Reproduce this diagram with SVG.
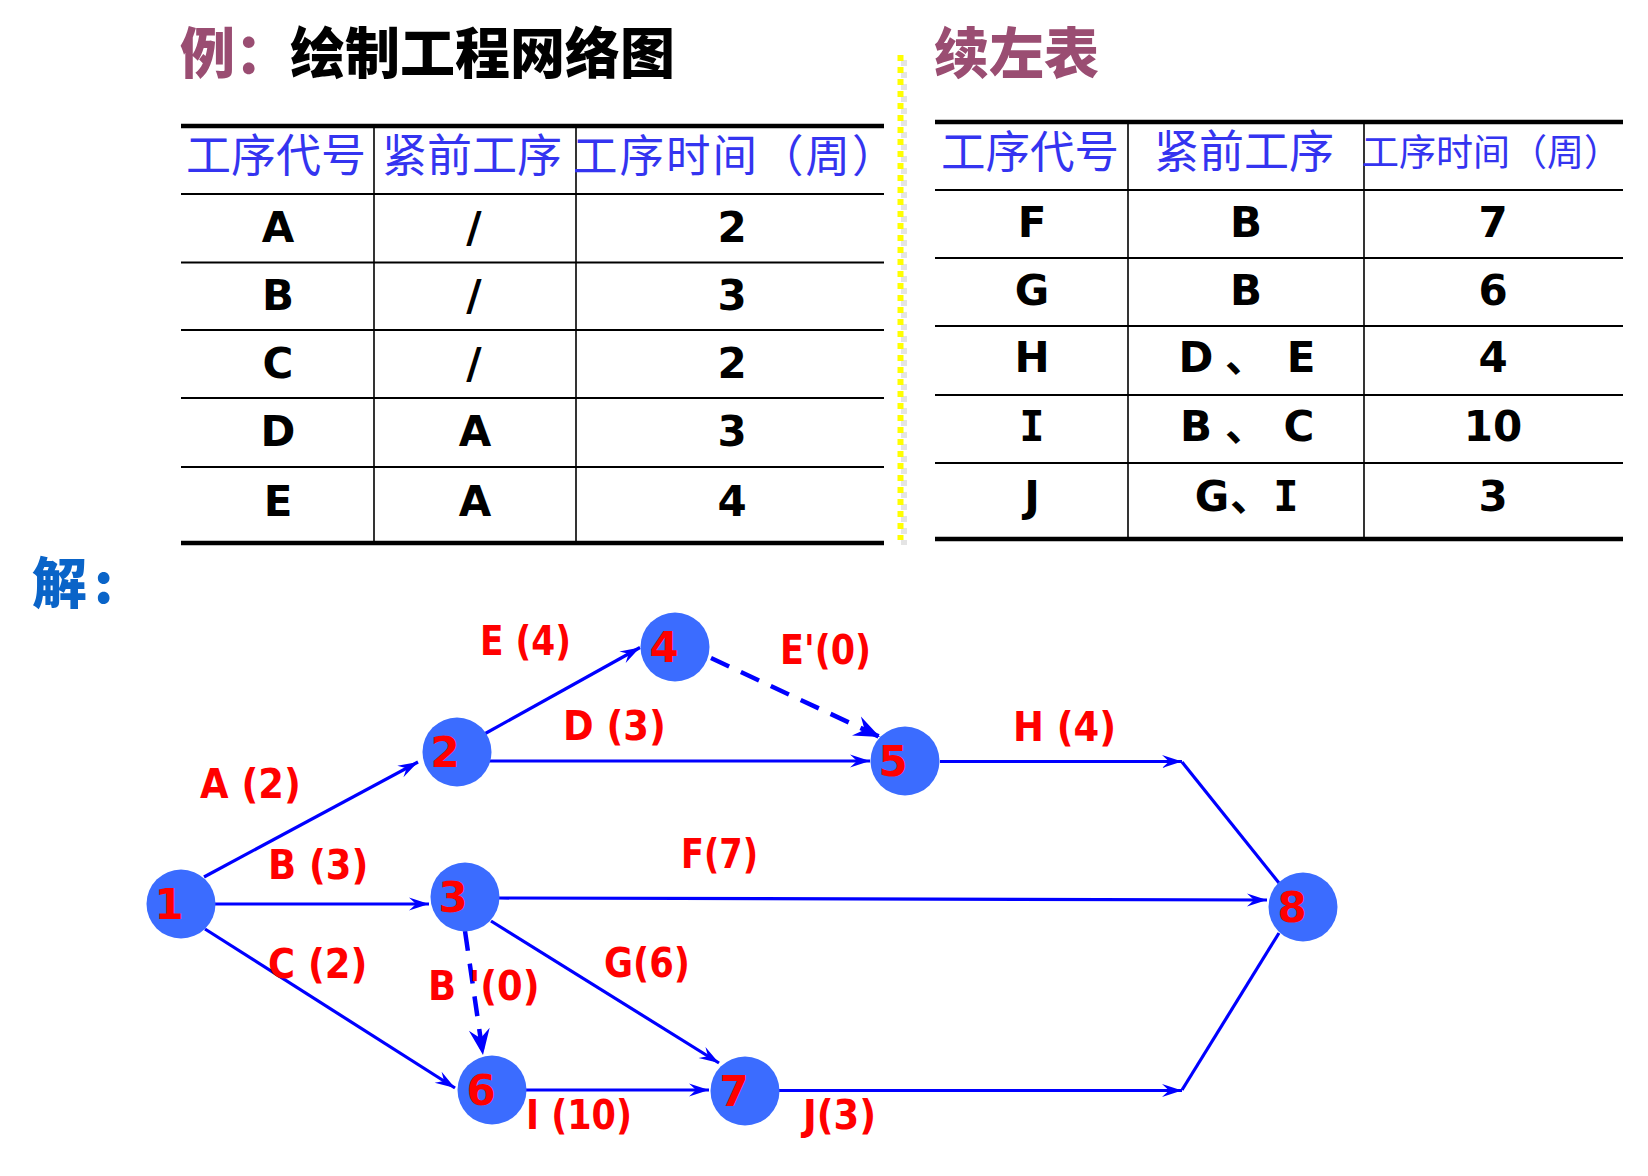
<svg xmlns="http://www.w3.org/2000/svg" width="1648" height="1176" viewBox="0 0 1648 1176">
<style>
.title{font-family:"Noto Sans CJK SC","Noto Sans",sans-serif;font-weight:900;font-size:55px}
.hdr{font-family:"Noto Sans CJK SC","Noto Sans",sans-serif;font-weight:400;fill:#3434f0}
.cell{font-family:"DejaVu Sans","Noto Sans CJK SC",sans-serif;font-weight:700;font-size:42px;fill:#000;text-anchor:middle}
.mono{font-family:"DejaVu Sans Mono",monospace}
.thick{stroke:#000;stroke-width:4.5}
.thin{stroke:#000;stroke-width:2}
.col{stroke:#000;stroke-width:1.6}
.node circle{fill:#3b6cff}
.node text{font-family:"DejaVu Sans",sans-serif;font-weight:700;font-size:42px;fill:#ff0000;text-anchor:middle}
.edge{stroke:#0000ff;stroke-width:3.2;fill:none}
.dash{stroke:#0000ff;stroke-width:4.5;fill:none;stroke-dasharray:20 13}
.lbl{font-family:"DejaVu Sans Condensed","DejaVu Sans",sans-serif;font-weight:700;font-size:41px;fill:#ff0000}
</style>
<defs>
<marker id="arr" markerUnits="userSpaceOnUse" markerWidth="24" markerHeight="16" viewBox="-22 -8 24 16" refX="0" refY="0" orient="auto">
<path d="M0,0 L-20,-6.5 L-13,0 L-20,6.5 Z" fill="#0000ff"/>
</marker>
<marker id="arrBig" markerUnits="userSpaceOnUse" markerWidth="30" markerHeight="24" viewBox="-28 -12 30 24" refX="0" refY="0" orient="auto">
<path d="M0,0 L-26,-10.5 L-17,0 L-26,10.5 Z" fill="#0000ff"/>
</marker>
</defs>
<rect width="1648" height="1176" fill="#ffffff"/>

<g id="titles">
<text class="title" x="180" y="73"><tspan fill="#9a4d72">例：</tspan><tspan fill="#000">绘制工程网络图</tspan></text>
<text class="title" x="934" y="73" fill="#9a4d72">续左表</text>
<text class="title" x="32" y="603" fill="#0a64c8">解<tspan dx="7">:</tspan></text>
</g>

<g id="separator">
<line x1="904" y1="60" x2="904" y2="545" stroke="#e4e4e4" stroke-width="6" stroke-dasharray="6 6"/>
<line x1="900.5" y1="55" x2="900.5" y2="540" stroke="#ffff00" stroke-width="6" stroke-dasharray="6 6"/>
</g>

<g id="table-left">
<line class="thick" x1="181" y1="126" x2="884" y2="126"/>
<line class="thin" x1="181" y1="194" x2="884" y2="194"/>
<line class="thin" x1="181" y1="262.5" x2="884" y2="262.5"/>
<line class="thin" x1="181" y1="330" x2="884" y2="330"/>
<line class="thin" x1="181" y1="398" x2="884" y2="398"/>
<line class="thin" x1="181" y1="467" x2="884" y2="467"/>
<line class="thick" x1="181" y1="543" x2="884" y2="543"/>
<line class="col" x1="374" y1="126" x2="374" y2="543"/>
<line class="col" x1="576" y1="126" x2="576" y2="543"/>
<text class="hdr" x="186" y="172" font-size="45">工序代号</text>
<text class="hdr" x="382" y="172" font-size="45">紧前工序</text>
<text class="hdr" x="573" y="172" font-size="44.5" letter-spacing="2">工序时间（周）</text>
<text class="cell" x="278" y="242">A</text><text class="cell" x="474" y="242">/</text><text class="cell" x="732" y="242">2</text>
<text class="cell" x="278" y="310">B</text><text class="cell" x="474" y="310">/</text><text class="cell" x="732" y="310">3</text>
<text class="cell" x="278" y="378">C</text><text class="cell" x="474" y="378">/</text><text class="cell" x="732" y="378">2</text>
<text class="cell" x="278" y="446">D</text><text class="cell" x="475" y="446">A</text><text class="cell" x="732" y="446">3</text>
<text class="cell" x="278" y="516">E</text><text class="cell" x="475" y="516">A</text><text class="cell" x="732" y="516">4</text>
</g>

<g id="table-right">
<line class="thick" x1="935" y1="122" x2="1623" y2="122"/>
<line class="thin" x1="935" y1="190" x2="1623" y2="190"/>
<line class="thin" x1="935" y1="258" x2="1623" y2="258"/>
<line class="thin" x1="935" y1="326" x2="1623" y2="326"/>
<line class="thin" x1="935" y1="395" x2="1623" y2="395"/>
<line class="thin" x1="935" y1="463" x2="1623" y2="463"/>
<line class="thick" x1="935" y1="539" x2="1623" y2="539"/>
<line class="col" x1="1128" y1="122" x2="1128" y2="539"/>
<line class="col" x1="1364" y1="122" x2="1364" y2="539"/>
<text class="hdr" x="941" y="168" font-size="44.5">工序代号</text>
<text class="hdr" x="1154" y="168" font-size="45">紧前工序</text>
<text class="hdr" x="1362" y="166" font-size="37">工序时间（周）</text>
<text class="cell" x="1032" y="237">F</text><text class="cell" x="1246" y="237">B</text><text class="cell" x="1493" y="237">7</text>
<text class="cell" x="1032" y="305">G</text><text class="cell" x="1246" y="305">B</text><text class="cell" x="1493" y="305">6</text>
<text class="cell" x="1032" y="372">H</text><text class="cell" x="1196" y="372">D</text><text class="cell" x="1246" y="372" font-family="Noto Sans CJK SC" font-weight="400">、</text><text class="cell" x="1301" y="372">E</text><text class="cell" x="1493" y="372">4</text>
<text class="cell mono" x="1032" y="441">I</text><text class="cell" x="1196" y="441">B</text><text class="cell" x="1246" y="441" font-family="Noto Sans CJK SC" font-weight="400">、</text><text class="cell" x="1299" y="441">C</text><text class="cell" x="1493" y="441">10</text>
<text class="cell" x="1032" y="511">J</text><text class="cell" x="1212" y="511">G</text><text class="cell" x="1251" y="511" font-family="Noto Sans CJK SC" font-weight="400">、</text><text class="cell mono" x="1286" y="511">I</text><text class="cell" x="1493" y="511">3</text>
</g>

<g id="connectors">
<line class="edge" x1="204" y1="877" x2="418" y2="762" marker-end="url(#arr)"/>
<line class="edge" x1="215" y1="904" x2="429" y2="904" marker-end="url(#arr)"/>
<line class="edge" x1="205" y1="929" x2="455" y2="1088" marker-end="url(#arr)"/>
<line class="edge" x1="479" y1="737" x2="640" y2="647.5" marker-end="url(#arr)"/>
<line class="edge" x1="488" y1="761" x2="870" y2="761" marker-end="url(#arr)"/>
<line class="dash" x1="711" y1="658" x2="880" y2="737" marker-end="url(#arrBig)"/>
<line class="dash" x1="465" y1="931" x2="483" y2="1055" marker-end="url(#arrBig)"/>
<line class="edge" x1="940" y1="761.5" x2="1182" y2="761.5" marker-end="url(#arr)"/>
<line class="edge" x1="499" y1="898" x2="1267" y2="900" marker-end="url(#arr)"/>
<line class="edge" x1="491" y1="921" x2="719" y2="1063" marker-end="url(#arr)"/>
<line class="edge" x1="525" y1="1090" x2="709" y2="1090" marker-end="url(#arr)"/>
<line class="edge" x1="778" y1="1090.5" x2="1182" y2="1090.5" marker-end="url(#arr)"/>
<line class="edge" x1="1182" y1="762" x2="1279" y2="883"/>
<line class="edge" x1="1182" y1="1090" x2="1279" y2="933"/>
</g>

<g id="edge-labels">
<text class="lbl" x="200" y="798">A (2)</text>
<text class="lbl" x="268" y="879">B (3)</text>
<text class="lbl" x="268" y="978">C (2)</text>
<text class="lbl" x="563" y="740">D (3)</text>
<text class="lbl" x="480" y="655" textLength="91" lengthAdjust="spacingAndGlyphs">E (4)</text>
<text class="lbl" x="780" y="664" textLength="91" lengthAdjust="spacingAndGlyphs">E'(0)</text>
<text class="lbl" x="681" y="868" textLength="77" lengthAdjust="spacingAndGlyphs">F(7)</text>
<text class="lbl" x="604" y="977" textLength="86" lengthAdjust="spacingAndGlyphs">G(6)</text>
<text class="lbl" x="428" y="1000">B '(0)</text>
<text class="lbl" x="526" y="1129" textLength="106" lengthAdjust="spacingAndGlyphs">I (10)</text>
<text class="lbl" x="803" y="1129">J(3)</text>
<text class="lbl" x="1013" y="741">H (4)</text>
</g>

<g id="node-1" class="node"><circle cx="181" cy="904" r="34.5"/><text x="169" y="919">1</text></g>
<g id="node-2" class="node"><circle cx="457" cy="752" r="34.5"/><text x="445" y="767">2</text></g>
<g id="node-3" class="node"><circle cx="465" cy="897" r="34.5"/><text x="453" y="912">3</text></g>
<g id="node-4" class="node"><circle cx="675" cy="647" r="34.5"/><text x="664" y="662">4</text></g>
<g id="node-5" class="node"><circle cx="905" cy="761" r="34.5"/><text x="893" y="776">5</text></g>
<g id="node-6" class="node"><circle cx="492" cy="1090" r="34.5"/><text x="481" y="1105">6</text></g>
<g id="node-7" class="node"><circle cx="745" cy="1091" r="34.5"/><text x="734" y="1106">7</text></g>
<g id="node-8" class="node"><circle cx="1303" cy="907" r="34.5"/><text x="1292" y="922">8</text></g>
</svg>
